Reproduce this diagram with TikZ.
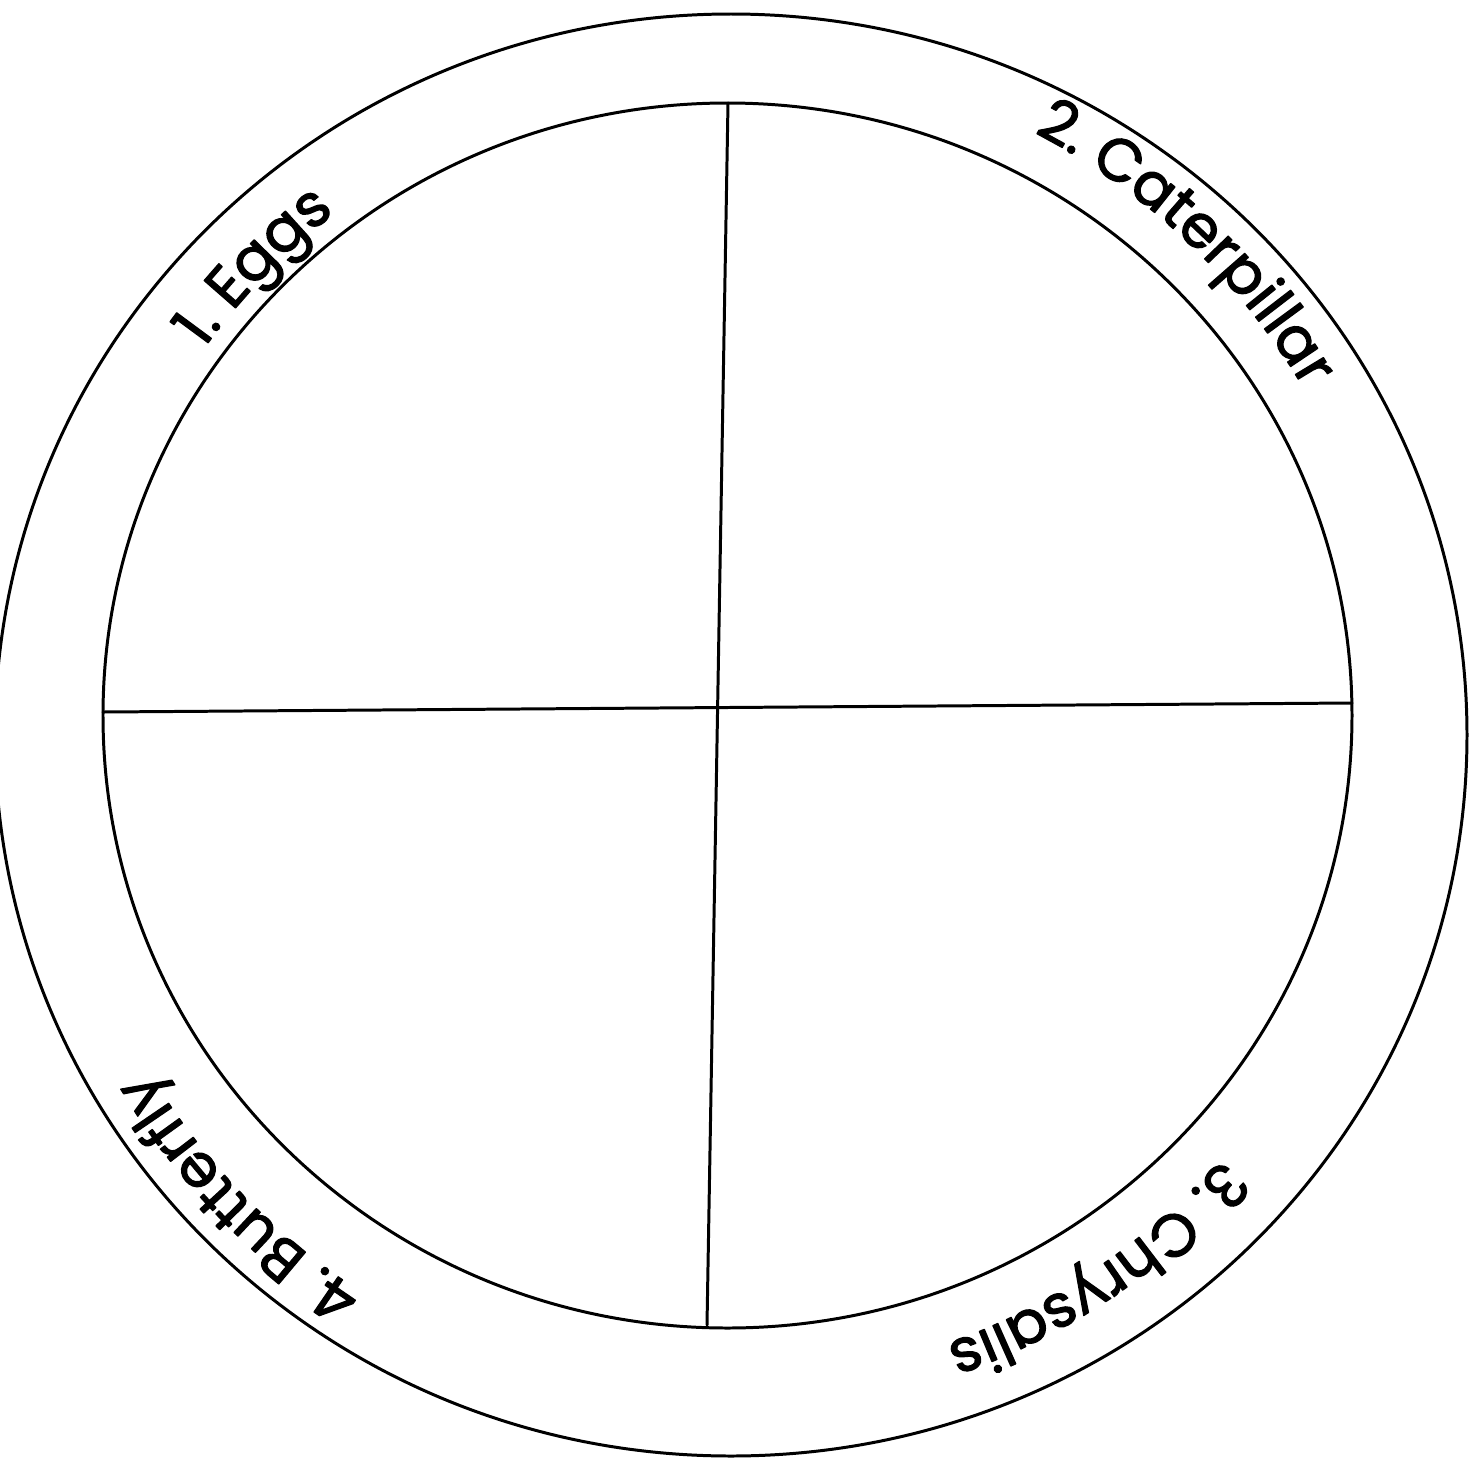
\documentclass[tikz,border=0pt]{standalone}
\usepackage{fontspec}
\setmainfont{Poppins}
\newfontfamily\stagefont{Poppins}[FakeBold=2]
\usetikzlibrary{calc,decorations.text}

\begin{document}
\begin{tikzpicture}[
    x=0.01cm,
    y=0.01cm,
    line cap=round,
    line join=round,
    ring/.style={line width=0.85pt},
    stage/.style={decorate, decoration={text along path, text align=center,
        text={|\stagefont\fontsize{17}{20}\selectfont|#1}}}
]

% -----------------------
% Page
% -----------------------
\useasboundingbox (0,0) rectangle (1481,-1463);

% -----------------------
% Coordinates
% -----------------------
\coordinate (C) at (729,-725);
\coordinate (Wl) at (103,-712);
\coordinate (Wr) at (1352,-703);
\coordinate (Wt) at (728,-103);
\coordinate (Wb) at (707,-1325);

% -----------------------
% Rings
% -----------------------
\draw[ring] (731,-735) ellipse [x radius=736, y radius=721];
\draw[ring] (727.5,-715.5) ellipse [x radius=624.5, y radius=612.5];

% -----------------------
% Quarters
% -----------------------
\draw[ring] (Wl) -- (Wr);
\draw[ring] (Wt) -- (Wb);

% -----------------------
% Stages (clockwise, tops outward)
% -----------------------
\path[stage={1. Eggs}] ($(C)+(176:646)$) arc[start angle=176, end angle=96, radius=646];
\path[stage={2. Caterpillar}] ($(C)+(87:666)$) arc[start angle=87, end angle=6, radius=666];
\path[stage={3. Chrysalis}] ($(C)+(-16:656)$) arc[start angle=-16, end angle=-96, radius=656];
\path[stage={4. Butterfly}] ($(C)+(264:676)$) arc[start angle=264, end angle=184, radius=676];

\end{tikzpicture}
\end{document}
